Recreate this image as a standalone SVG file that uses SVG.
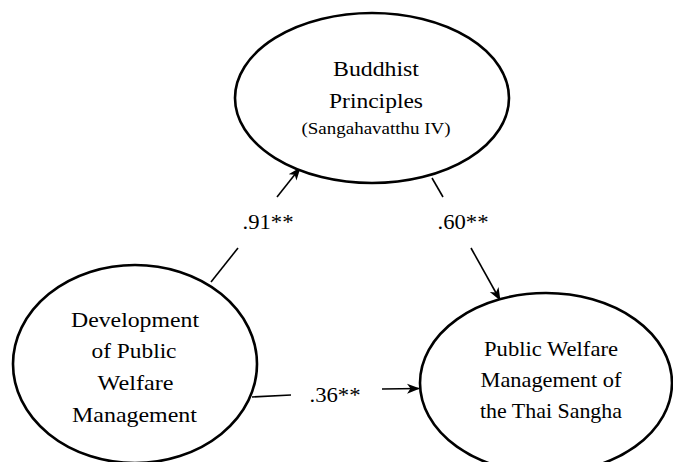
<svg xmlns="http://www.w3.org/2000/svg" width="673" height="462" viewBox="0 0 673 462">
<style>
.node{fill:#fff;stroke:#000;stroke-width:2.6}
.c{stroke:#000;stroke-width:1.6;fill:none}
</style>
<defs>
<marker id="ah" markerUnits="userSpaceOnUse" markerWidth="14" markerHeight="12" refX="12" refY="5" orient="auto" viewBox="0 0 14 10">
<path d="M0,0 L13,5 L0,10 L3.5,5 Z" fill="#000"/>
</marker>
</defs>
<rect width="673" height="462" fill="#fff"/>
<g font-family="Liberation Serif, Times New Roman, serif" font-size="21" text-anchor="middle" fill="#000">
<g id="connectors">
<line class="c" x1="211" y1="282" x2="238" y2="248"/>
<line class="c" x1="277" y1="197" x2="300" y2="168" marker-end="url(#ah)"/>
<line class="c" x1="432" y1="178" x2="443" y2="197"/>
<line class="c" x1="471" y1="248" x2="500" y2="300" marker-end="url(#ah)"/>
<line class="c" x1="252" y1="397" x2="291" y2="395"/>
<line class="c" x1="382" y1="389" x2="419" y2="388.5" marker-end="url(#ah)"/>
<text x="268" y="229" textLength="51" lengthAdjust="spacingAndGlyphs">.91**</text>
<text x="463" y="229" textLength="51" lengthAdjust="spacingAndGlyphs">.60**</text>
<text x="335" y="402" textLength="51" lengthAdjust="spacingAndGlyphs">.36**</text>
</g>
<g id="buddhist">
<ellipse class="node" cx="372" cy="98" rx="137" ry="85"/>
<text x="376" y="76" textLength="86" lengthAdjust="spacingAndGlyphs">Buddhist</text>
<text x="376" y="108" textLength="94" lengthAdjust="spacingAndGlyphs">Principles</text>
<text x="376" y="134" font-size="16" textLength="149" lengthAdjust="spacingAndGlyphs">(Sangahavatthu IV)</text>
</g>
<g id="development">
<ellipse class="node" cx="135" cy="364" rx="122" ry="99"/>
<text x="135" y="327" textLength="128" lengthAdjust="spacingAndGlyphs">Development</text>
<text x="134" y="358" textLength="85" lengthAdjust="spacingAndGlyphs">of Public</text>
<text x="135.5" y="390" textLength="76" lengthAdjust="spacingAndGlyphs">Welfare</text>
<text x="134.5" y="421.5" textLength="125" lengthAdjust="spacingAndGlyphs">Management</text>
</g>
<g id="sangha">
<ellipse class="node" cx="546" cy="383" rx="126" ry="90"/>
<text x="551" y="355.5" textLength="134" lengthAdjust="spacingAndGlyphs">Public Welfare</text>
<text x="551" y="386.5" textLength="141" lengthAdjust="spacingAndGlyphs">Management of</text>
<text x="551" y="418" textLength="142" lengthAdjust="spacingAndGlyphs">the Thai Sangha</text>
</g>
</g>
</svg>
